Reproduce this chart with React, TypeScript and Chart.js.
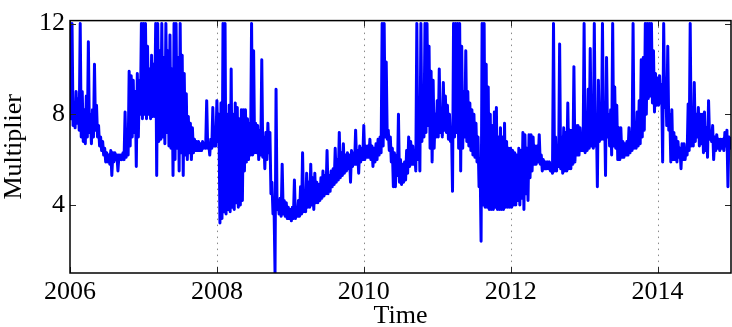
import React, { useEffect, useRef } from "react";
import { Chart, registerables } from "chart.js";

Chart.register(...registerables);

// ---- data: per year, 36 periods; high and low reading of each period ----
const startYear = 2006;
const periodsPerYear = 36;

const hi2006 = [12, 12, 8.2, 9.0, 8.7, 12, 9.0, 8.2, 8.8, 11.2, 8.0, 8.2, 10.2, 8.4, 7.5, 7.0, 6.8, 6.5, 6.3, 6.2, 6.4, 6.3, 6.3, 6.2, 6.2, 6.2, 6.3, 8.1, 6.8, 9.9, 9.7, 9.5, 9.0, 9.8, 9.5, 12];
const lo2006 = [7.8, 7.5, 7.4, 7.6, 7.3, 7.0, 6.8, 6.7, 7.0, 7.2, 6.7, 7.0, 7.3, 7.0, 6.6, 6.4, 6.2, 5.9, 5.9, 5.8, 5.3, 5.9, 6.0, 5.5, 6.0, 6.0, 6.0, 6.1, 6.2, 6.6, 7.0, 7.2, 5.7, 7.0, 8.0, 7.8];

const hi2007 = [12, 12, 11.0, 10.0, 10.6, 10.2, 12, 12, 10.8, 12, 10.5, 12, 10.8, 11.5, 10.0, 12, 12, 10.5, 12, 10.6, 9.8, 8.9, 7.9, 7.6, 7.4, 6.9, 6.8, 6.8, 6.7, 6.8, 6.7, 8.6, 6.7, 6.9, 8.3, 7.0];
const lo2007 = [8.0, 7.8, 8.0, 7.8, 7.9, 7.9, 5.3, 6.8, 6.9, 7.0, 6.7, 7.2, 6.6, 6.5, 5.3, 6.0, 6.5, 5.5, 6.3, 5.3, 6.2, 6.0, 6.3, 6.0, 6.3, 6.4, 6.4, 6.4, 6.4, 6.5, 6.5, 6.5, 6.2, 6.5, 6.6, 6.6];

const hi2008 = [8.6, 8.0, 8.5, 12, 12, 8.0, 8.4, 10.0, 8.0, 8.5, 8.3, 7.8, 8.2, 8.2, 8.2, 7.8, 7.6, 12, 10.8, 7.6, 7.5, 7.3, 10.4, 7.0, 7.2, 7.6, 7.2, 5.0, 4.0, 9.1, 4.2, 4.3, 5.8, 4.2, 4.1, 3.9];
const lo2008 = [6.8, 3.2, 3.4, 3.7, 3.6, 3.8, 3.7, 3.9, 3.8, 4.1, 3.9, 4.0, 4.2, 5.5, 5.9, 6.0, 6.2, 6.2, 6.3, 6.3, 6.0, 6.2, 6.1, 5.6, 6.0, 6.3, 4.5, 3.6, 1.0, 3.8, 3.6, 3.5, 3.6, 3.5, 3.4, 3.4];

const hi2009 = [3.8, 3.9, 5.1, 3.9, 4.2, 4.8, 6.3, 4.6, 5.4, 5.0, 5.8, 5.2, 5.4, 5.0, 4.9, 5.2, 5.5, 5.3, 6.4, 5.3, 5.5, 5.6, 6.5, 6.0, 7.2, 6.3, 6.7, 6.2, 6.3, 6.2, 6.4, 6.3, 7.3, 6.4, 6.6, 6.5];
const lo2009 = [3.3, 3.4, 3.4, 3.5, 3.5, 3.6, 3.7, 3.7, 3.9, 3.9, 4.0, 3.8, 4.1, 4.1, 4.2, 4.3, 4.4, 4.5, 4.5, 4.6, 4.8, 4.9, 5.0, 5.1, 5.2, 5.3, 5.4, 5.5, 5.6, 5.0, 5.7, 5.8, 5.8, 5.4, 5.9, 6.0];

const hi2010 = [7.5, 6.6, 6.6, 6.9, 6.6, 6.5, 6.7, 6.9, 7.0, 12, 12, 10.3, 7.3, 7.0, 6.5, 6.3, 6.2, 8.0, 6.0, 5.8, 5.9, 6.4, 7.0, 6.8, 6.6, 6.3, 12, 8.0, 12, 9.0, 12, 12, 11.0, 9.9, 9.5, 8.0];
const lo2010 = [6.0, 6.1, 6.1, 6.0, 5.7, 5.9, 6.0, 6.2, 6.3, 6.6, 7.0, 6.9, 6.4, 5.9, 4.8, 4.8, 5.3, 5.0, 4.9, 5.0, 5.1, 5.4, 5.7, 5.8, 5.8, 5.5, 6.0, 5.5, 6.8, 7.0, 7.2, 7.5, 6.5, 5.9, 6.5, 7.0];

const hi2011 = [8.6, 10.0, 8.0, 9.4, 8.8, 8.4, 8.0, 7.4, 12, 12, 12, 12, 11.0, 9.0, 10.8, 9.0, 8.5, 8.2, 8.0, 7.6, 7.0, 6.0, 12, 12, 10.2, 9.2, 8.0, 7.5, 8.1, 8.3, 7.0, 7.4, 7.0, 7.6, 6.8, 6.5];
const lo2011 = [7.0, 7.2, 7.0, 7.3, 7.2, 6.9, 6.8, 4.6, 7.0, 7.2, 6.5, 5.5, 6.5, 7.0, 6.8, 6.6, 6.4, 6.2, 6.1, 5.9, 4.8, 2.4, 4.0, 3.9, 3.9, 3.8, 3.8, 3.8, 3.9, 3.8, 3.8, 3.8, 3.8, 3.9, 3.9, 3.9];

const hi2012 = [6.5, 6.4, 6.3, 6.2, 6.5, 6.4, 7.2, 7.1, 6.5, 7.1, 7.1, 7.0, 6.6, 6.6, 7.1, 6.2, 6.0, 5.9, 5.9, 5.9, 5.8, 12, 7.0, 6.6, 11.1, 7.0, 7.4, 7.2, 8.5, 7.3, 7.3, 10.1, 7.5, 7.5, 7.4, 7.1];
const lo2012 = [3.9, 4.0, 4.0, 4.2, 4.0, 4.3, 3.8, 4.5, 4.2, 5.2, 5.5, 5.8, 5.8, 5.9, 5.8, 5.5, 5.6, 5.6, 5.6, 5.5, 5.4, 5.5, 5.5, 5.7, 5.6, 5.4, 5.5, 5.5, 5.6, 5.6, 5.8, 5.9, 6.2, 6.2, 6.4, 6.4];

const hi2013 = [12, 8.0, 9.1, 10.9, 8.0, 12, 8.0, 9.5, 8.0, 12, 8.3, 10.5, 8.0, 8.2, 12, 9.2, 8.4, 7.4, 7.4, 6.8, 6.7, 6.8, 7.4, 7.2, 12, 7.2, 8.1, 8.6, 10.4, 10.5, 12, 12, 12, 12, 10.8, 9.8];
const lo2013 = [6.3, 6.4, 6.5, 6.6, 6.5, 6.6, 4.8, 6.8, 6.9, 6.9, 5.3, 7.0, 6.6, 6.2, 6.6, 6.5, 6.0, 6.0, 6.1, 6.1, 6.2, 6.2, 6.3, 6.4, 6.5, 6.5, 6.6, 6.7, 7.0, 7.3, 8.0, 8.7, 8.8, 8.5, 8.1, 8.4];

const hi2014 = [9.6, 9.7, 9.3, 12, 9.4, 11.0, 8.0, 8.2, 7.2, 7.0, 6.8, 6.5, 6.7, 6.7, 6.5, 8.45, 12, 7.2, 9.4, 8.0, 8.3, 8.0, 8.0, 8.1, 7.4, 8.6, 7.2, 7.5, 7.0, 7.1, 6.9, 6.9, 6.9, 7.2, 7.3, 7.0];
const lo2014 = [8.4, 8.5, 5.9, 8.3, 7.5, 7.3, 5.9, 6.0, 6.0, 5.9, 6.1, 5.6, 6.0, 6.0, 6.2, 6.4, 6.6, 6.6, 6.8, 7.0, 6.6, 6.7, 6.3, 6.4, 6.1, 6.9, 6.8, 6.0, 6.4, 6.5, 6.4, 6.5, 6.4, 6.6, 4.8, 6.5];

const value2015Start = 7.0;

const xTickValues = [2006, 2008, 2010, 2012, 2014];
const yTickValues = [4, 8, 12];
const xMin = 2006;
const xMax = 2015;
const yMin = 1;
const yMax = 12.13;
const xTitle = "Time";
const yTitle = "Multiplier";

const highs = [hi2006, hi2007, hi2008, hi2009, hi2010, hi2011, hi2012, hi2013, hi2014];
const lows = [lo2006, lo2007, lo2008, lo2009, lo2010, lo2011, lo2012, lo2013, lo2014];

function buildPoints() {
  const pts: { x: number; y: number }[] = [];
  highs.forEach((hArr, k) => {
    const lArr = lows[k];
    hArr.forEach((h, i) => {
      const t = startYear + k + i / periodsPerYear;
      pts.push({ x: t, y: h });
      pts.push({ x: t + 0.5 / periodsPerYear, y: lArr[i] });
    });
  });
  pts.push({ x: startYear + highs.length, y: value2015Start });
  return pts;
}

const FONT = "'Liberation Serif', 'Times New Roman', serif";

const axesPlugin = {
  id: "matlabAxes",
  beforeDatasetsDraw(chart: any) {
    const { ctx, chartArea: a, scales } = chart;
    const x = scales.x;
    ctx.save();
    ctx.strokeStyle = "#8a8a8a";
    ctx.lineWidth = 1;
    ctx.setLineDash([1.5, 4.5]);
    xTickValues.forEach((v) => {
      const px = Math.round(x.getPixelForValue(v)) + 0.5;
      if (px - a.left < 3 || a.right - px < 3) return;
      ctx.beginPath();
      ctx.moveTo(px, a.top);
      ctx.lineTo(px, a.bottom);
      ctx.stroke();
    });
    ctx.restore();
  },
  afterDatasetsDraw(chart: any) {
    const { ctx, chartArea: a, scales } = chart;
    const x = scales.x;
    const y = scales.y;
    const tl = 6;
    ctx.save();
    ctx.setLineDash([]);
    ctx.strokeStyle = "#262626";
    ctx.lineWidth = 1;
    xTickValues.forEach((v) => {
      const px = Math.round(x.getPixelForValue(v)) + 0.5;
      ctx.beginPath();
      ctx.moveTo(px, a.bottom);
      ctx.lineTo(px, a.bottom - tl);
      ctx.moveTo(px, a.top);
      ctx.lineTo(px, a.top + tl);
      ctx.stroke();
    });
    yTickValues.forEach((v) => {
      const py = Math.round(y.getPixelForValue(v)) + 0.5;
      ctx.beginPath();
      ctx.moveTo(a.left, py);
      ctx.lineTo(a.left + tl, py);
      ctx.moveTo(a.right, py);
      ctx.lineTo(a.right - tl, py);
      ctx.stroke();
    });
    ctx.strokeStyle = "#000";
    ctx.lineWidth = 1.5;
    ctx.strokeRect(a.left, a.top, a.right - a.left, a.bottom - a.top);
    ctx.restore();
  },
};

export default function App() {
  const ref = useRef<HTMLCanvasElement | null>(null);
  useEffect(() => {
    if (!ref.current) return;
    const chart = new Chart(ref.current, {
      type: "line",
      data: {
        datasets: [
          {
            data: buildPoints(),
            borderColor: "#0000ff",
            borderWidth: 3,
            pointRadius: 0,
            tension: 0,
            fill: false,
            borderJoinStyle: "round",
          } as any,
        ],
      },
      options: {
        animation: false,
        responsive: true,
        maintainAspectRatio: false,
        parsing: false as any,
        layout: { padding: { top: 12, right: 1, left: 0, bottom: 0 } },
        plugins: { legend: { display: false }, tooltip: { enabled: false } },
        scales: {
          x: {
            type: "linear",
            min: xMin,
            max: xMax,
            grid: { display: false, drawTicks: false },
            border: { display: false },
            afterBuildTicks: (s: any) => {
              s.ticks = xTickValues.map((v) => ({ value: v }));
            },
            afterFit: (s: any) => {
              s.height = 54;
            },
            ticks: {
              color: "#000",
              font: { family: FONT, size: 26 },
              padding: 4,
              maxRotation: 0,
              autoSkip: false,
              callback: (v: any) => String(v),
            },
            title: {
              display: true,
              text: xTitle,
              color: "#000",
              font: { family: FONT, size: 26, lineHeight: 0.8 },
              padding: { top: 0, bottom: 0 },
            },
          },
          y: {
            type: "linear",
            min: yMin,
            max: yMax,
            grid: { display: false, drawTicks: false },
            border: { display: false },
            afterBuildTicks: (s: any) => {
              s.ticks = yTickValues.map((v) => ({ value: v }));
            },
            afterFit: (s: any) => {
              s.width = 70;
            },
            ticks: {
              color: "#000",
              font: { family: FONT, size: 26 },
              padding: 5,
              callback: (v: any) => String(v),
            },
            title: {
              display: true,
              text: yTitle,
              color: "#000",
              font: { family: FONT, size: 26, lineHeight: 1 },
              padding: { top: 1, bottom: 0 },
            },
          },
        },
      },
      plugins: [axesPlugin],
    });
    return () => chart.destroy();
  }, []);
  return (
    <div style={{ position: "absolute", left: 0, top: 0, width: 732, height: 327, background: "#fff" }}>
      <canvas ref={ref} />
    </div>
  );
}
